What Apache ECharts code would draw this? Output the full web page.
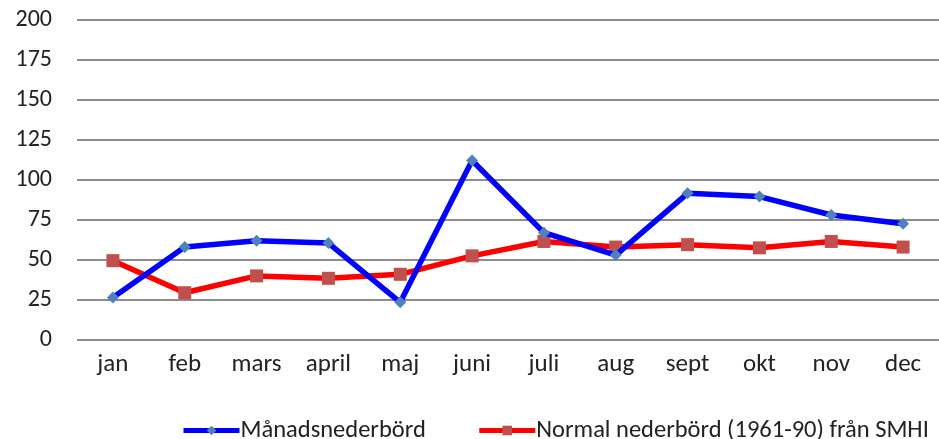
<!DOCTYPE html>
<html>
<head>
<meta charset="utf-8">
<script src="https://cdn.jsdelivr.net/npm/echarts@6/dist/echarts.min.js"></script>
<style>
  html, body { margin: 0; padding: 0; background: #fff; }
</style>
</head>
<body>
<div id="chart" style="width: 939px; height: 439px"></div>
<script>
const months = ['jan', 'feb', 'mars', 'april', 'maj', 'juni', 'juli', 'aug', 'sept', 'okt', 'nov', 'dec']
const manadsNederbord = [26.5, 58, 62, 60.5, 23.5, 112, 67, 53, 91.5, 89.5, 78, 72.5]
const normalNederbord = [49.5, 29.5, 40, 38.5, 41, 52.5, 61.5, 58, 59.5, 57.5, 61.5, 58]
const yTicks = [0, 25, 50, 75, 100, 125, 150, 175, 200]

const font = "Carlito, 'Liberation Sans Narrow', 'Open Sans', sans-serif"

let myChart = echarts.init(document.getElementById('chart'))
let option = {
  animation: false,
  grid: {
    left: 77,
    right: -10,
    top: 19.5,
    bottom: 99,
  },
  legend: {
    left: 176,
    top: 413,
    itemWidth: 56,
    itemHeight: 12,
    itemGap: 51,
    lineStyle: { width: 5 },
    textStyle: {
      fontFamily: font,
      fontSize: 24.5,
      color: '#222',
      padding: [0, 0, 0, -4],
    },
    data: ['Månadsnederbörd', 'Normal nederbörd (1961-90) från SMHI'],
  },
  xAxis: {
    type: 'category',
    data: months,
    boundaryGap: true,
    axisLine: { show: false },
    axisTick: { show: false },
    axisLabel: {
      margin: 12,
      fontFamily: font,
      fontSize: 25,
      color: '#222',
    },
  },
  yAxis: {
    type: 'value',
    min: yTicks[0],
    max: yTicks[yTicks.length - 1],
    interval: 25,
    axisLine: { show: false },
    axisTick: { show: false },
    axisLabel: {
      margin: 25,
      fontFamily: font,
      fontSize: 24,
      color: '#222',
    },
    splitLine: {
      lineStyle: { color: '#8c8c8c', width: 2 },
    },
  },
  series: [
    {
      name: 'Månadsnederbörd',
      type: 'line',
      data: manadsNederbord,
      symbol: 'diamond',
      symbolSize: 12,
      lineStyle: { color: '#0000ff', width: 5.5 },
      itemStyle: { color: '#4f81bd' },
      z: 3,
    },
    {
      name: 'Normal nederbörd (1961-90) från SMHI',
      type: 'line',
      data: normalNederbord,
      symbol: 'rect',
      symbolSize: 13,
      lineStyle: { color: '#ff0000', width: 5.5 },
      itemStyle: { color: '#c0504d' },
      z: 2,
    },
  ],
}
myChart.setOption(option)
</script>
</body>
</html>
